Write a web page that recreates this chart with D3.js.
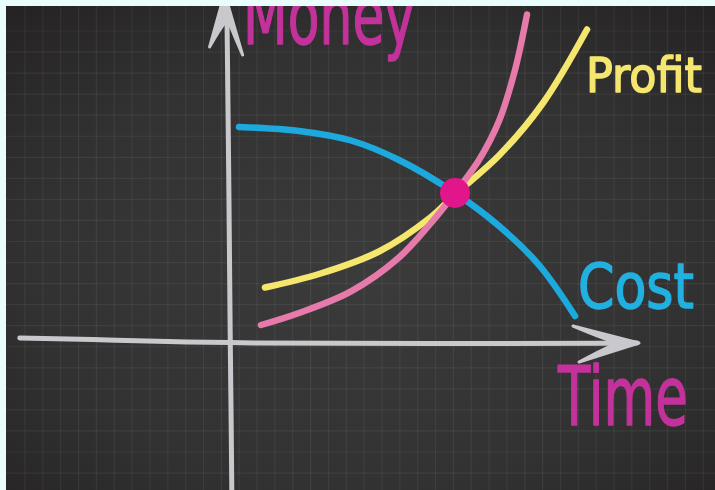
<!DOCTYPE html>
<html>
<head>
<meta charset="utf-8">
<script src="https://cdn.jsdelivr.net/npm/d3@7"></script>
<style>
  html, body { margin: 0; padding: 0; background: #eafdfd; }
  svg { display: block; }
</style>
</head>
<body>
<svg id="chart" width="715" height="490"></svg>
<script>
// Curve samples as [time, money] pairs
const costPoints = [[0.2, 7.2], [1.7, 7.07], [3.0, 6.75], [4.2, 6.1], [5.6, 5.0], [6.7, 3.9], [7.7, 2.6], [8.6, 0.9]];
const profitPoints = [[0.85, 1.85], [2.2, 2.3], [3.7, 3.05], [5.0, 4.2], [5.6, 4.95], [6.7, 6.25], [7.8, 8.0], [8.9, 10.45]];
const revenuePoints = [[0.75, 0.6], [1.7, 1.0], [3.0, 1.72], [4.2, 2.85], [5.0, 4.0], [5.6, 5.0], [6.2, 6.1], [6.7, 7.4], [7.1, 9.1], [7.4, 10.95]];
const breakEven = [5.6, 5.0];

// Axis labels and curve labels
const axisLabels = { x: "Time", y: "Money" };
const seriesLabels = ["Profit", "Cost"];

// Axis extents in data units
const xAxisExtent = [-5.28, 10.15];
const yAxisExtent = [-4.9, 10.8];

const W = 715, H = 490;
const svg = d3.select("#chart");

const x = d3.scaleLinear().domain([0, 10]).range([231, 631]);
const y = d3.scaleLinear().domain([0, 10]).range([343, 43]);

const defs = svg.append("defs");
const bg = defs.append("radialGradient").attr("id", "board")
  .attr("cx", "50%").attr("cy", "55%").attr("r", "75%");
bg.append("stop").attr("offset", "0%").attr("stop-color", "#3b3b3b");
bg.append("stop").attr("offset", "60%").attr("stop-color", "#333232");
bg.append("stop").attr("offset", "100%").attr("stop-color", "#242222");

defs.append("filter").attr("id", "soft")
  .append("feGaussianBlur").attr("stdDeviation", 0.7);

defs.append("clipPath").attr("id", "boardClip")
  .append("rect").attr("x", 6).attr("y", 6).attr("width", W - 6).attr("height", H - 6);

const board = svg.append("g").attr("clip-path", "url(#boardClip)");
board.append("rect").attr("x", 6).attr("y", 6).attr("width", W - 6).attr("height", H - 6)
  .attr("fill", "url(#board)");

// Chalkboard grid
const grid = board.append("g").attr("stroke", "#ffffff").attr("stroke-opacity", 0.06).attr("stroke-width", 1.2);
grid.selectAll("line.v").data(d3.range(25, W, 17.85)).join("line")
  .attr("x1", d => d).attr("x2", d => d).attr("y1", 6).attr("y2", H);
grid.selectAll("line.h").data(d3.range(31, H, 21.05)).join("line")
  .attr("y1", d => d).attr("y2", d => d).attr("x1", 6).attr("x2", W);

const ink = board.append("g").attr("filter", "url(#soft)");

// Hand-drawn axes
const axisColor = "#c9c9cd";
const xAxisLine = d3.line().curve(d3.curveBasis);
ink.append("path")
  .attr("d", xAxisLine([
    [x(xAxisExtent[0]), y(0.17)], [x(-3.5), y(0.12)], [x(-1.5), y(0.04)], [x(0), y(0)],
    [x(5), y(-0.03)], [x(xAxisExtent[1]), y(0)]
  ]))
  .attr("fill", "none").attr("stroke", axisColor).attr("stroke-width", 5).attr("stroke-linecap", "round");
// x arrowhead
const tipX = [x(xAxisExtent[1]) + 2, y(0)];
ink.append("path")
  .attr("d", `M${tipX[0]},${tipX[1]} L${tipX[0] - 66},${tipX[1] - 17} Q${tipX[0] - 40},${tipX[1] - 6} ${tipX[0] - 22},${tipX[1]} Q${tipX[0] - 40},${tipX[1] + 8} ${tipX[0] - 60},${tipX[1] + 19} Z`)
  .attr("fill", axisColor).attr("stroke", axisColor).attr("stroke-width", 3).attr("stroke-linejoin", "round");

ink.append("path")
  .attr("d", d3.line().curve(d3.curveBasis)([
    [x(0.02), y(yAxisExtent[0])], [x(0), y(-2)], [x(-0.02), y(0)], [x(-0.05), y(5)], [x(-0.1), y(yAxisExtent[1])]
  ]))
  .attr("fill", "none").attr("stroke", axisColor).attr("stroke-width", 5).attr("stroke-linecap", "round");
// y arrowhead
const tipY = [x(-0.16), y(yAxisExtent[1]) - 26];
ink.append("path")
  .attr("d", `M${tipY[0]},${tipY[1]} L${tipY[0] - 15},${tipY[1] + 54} Q${tipY[0] - 5},${tipY[1] + 36} ${tipY[0] + 3},${tipY[1] + 26} Q${tipY[0] + 10},${tipY[1] + 44} ${tipY[0] + 18},${tipY[1] + 62} Z`)
  .attr("fill", axisColor).attr("stroke", axisColor).attr("stroke-width", 3).attr("stroke-linejoin", "round");

// Curves
const curve = d3.line().x(d => x(d[0])).y(d => y(d[1])).curve(d3.curveCatmullRom.alpha(0.5));
const series = [
  { pts: costPoints, color: "#1ea9dd" },
  { pts: profitPoints, color: "#f5e66e" },
  { pts: revenuePoints, color: "#e67aab" }
];
ink.selectAll("path.series").data(series).join("path")
  .attr("class", "series")
  .attr("d", d => curve(d.pts))
  .attr("fill", "none").attr("stroke", d => d.color)
  .attr("stroke-width", 6.5).attr("stroke-linecap", "round");

// Break-even point
ink.append("circle")
  .attr("cx", x(breakEven[0])).attr("cy", y(breakEven[1])).attr("r", 15)
  .attr("fill", "#e2148b");

// Chalk lettering
const letters = board.append("g").attr("filter", "url(#soft)")
  .attr("font-family", "'DejaVu Sans', sans-serif").attr("stroke-linejoin", "round");

letters.append("text").text(axisLabels.y)
  .attr("x", 243).attr("y", 44).attr("font-size", 80)
  .attr("textLength", 172).attr("lengthAdjust", "spacingAndGlyphs")
  .attr("fill", "#c3329b").attr("stroke", "#c3329b").attr("stroke-width", 1.5);

letters.append("text").text(axisLabels.x)
  .attr("x", 558).attr("y", 425).attr("font-size", 82)
  .attr("textLength", 130).attr("lengthAdjust", "spacingAndGlyphs")
  .attr("fill", "#c3329b").attr("stroke", "#c3329b").attr("stroke-width", 1.5);

letters.append("text").text(seriesLabels[0])
  .attr("x", 586).attr("y", 92).attr("font-size", 48)
  .attr("textLength", 116).attr("lengthAdjust", "spacingAndGlyphs")
  .attr("fill", "#f5e66e").attr("stroke", "#f5e66e").attr("stroke-width", 1.5);

letters.append("text").text(seriesLabels[1])
  .attr("x", 578).attr("y", 308).attr("font-size", 62)
  .attr("textLength", 116).attr("lengthAdjust", "spacingAndGlyphs")
  .attr("fill", "#22b0e0").attr("stroke", "#22b0e0").attr("stroke-width", 1.5);
</script>
</body>
</html>
